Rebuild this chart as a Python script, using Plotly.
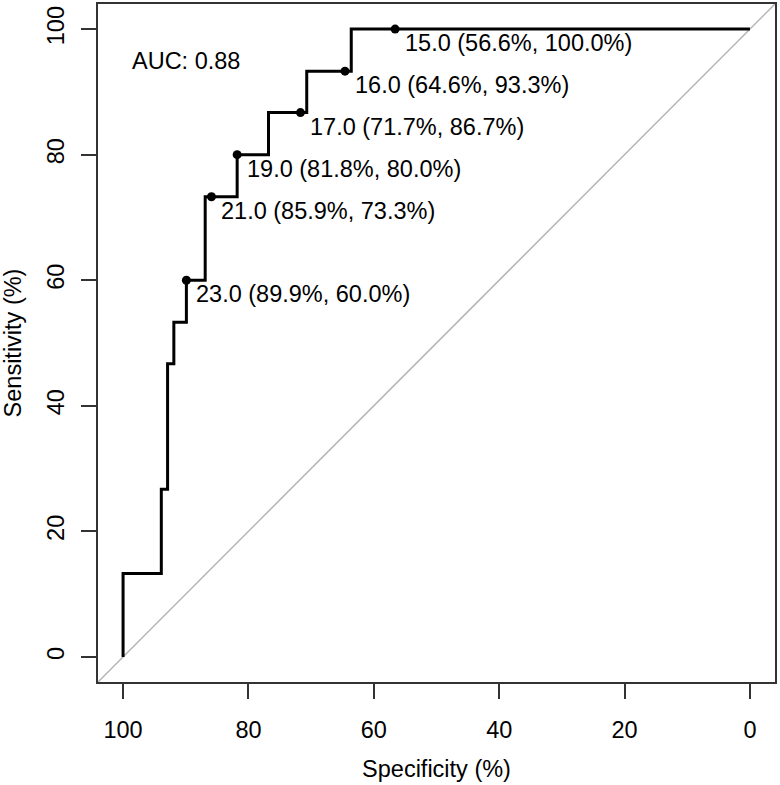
import plotly.graph_objects as go

# ROC curve vertices (specificity %, sensitivity %)
specificity = [100, 100, 93.9, 93.9, 92.9, 92.9, 91.9, 91.9, 89.9, 89.9, 86.9, 86.9,
               81.8, 81.8, 76.8, 76.8, 70.7, 70.7, 63.6, 63.6, 0]
sensitivity = [0, 13.3, 13.3, 26.7, 26.7, 46.7, 46.7, 53.3, 53.3, 60.0, 60.0, 73.3,
               73.3, 80.0, 80.0, 86.7, 86.7, 93.3, 93.3, 100, 100]

# printed thresholds
thresholds = ["15.0", "16.0", "17.0", "19.0", "21.0", "23.0"]
thr_spec = [56.6, 64.6, 71.7, 81.8, 85.9, 89.9]
thr_sens = [100.0, 93.3, 86.7, 80.0, 73.3, 60.0]

auc_text = "AUC: 0.88"
x_ticks = [100, 80, 60, 40, 20, 0]
y_ticks = [0, 20, 40, 60, 80, 100]

FONT = "Liberation Sans, Arial, Helvetica, sans-serif"
FS = 23.5

fig = go.Figure()

# diagonal reference line
fig.add_trace(go.Scatter(x=[104, -4], y=[-4, 104], mode="lines",
                         line=dict(color="#b4b4b4", width=1.5),
                         hoverinfo="skip", showlegend=False))

fig.add_trace(go.Scatter(x=specificity, y=sensitivity, mode="lines",
                         line=dict(color="black", width=3),
                         showlegend=False))

fig.add_trace(go.Scatter(x=thr_spec, y=thr_sens, mode="markers",
                         marker=dict(color="black", size=9),
                         showlegend=False))

for t, s, se in zip(thresholds, thr_spec, thr_sens):
    fig.add_annotation(x=s, y=se, text=f"{t} ({s:.1f}%, {se:.1f}%)",
                       showarrow=False, xanchor="left", yanchor="middle",
                       xshift=8, yshift=-14,
                       font=dict(family=FONT, size=FS, color="black"))

fig.add_annotation(x=98.9, y=95, text=auc_text, showarrow=False,
                   xanchor="left", yanchor="middle",
                   font=dict(family=FONT, size=FS, color="black"))

axis_common = dict(showgrid=False, zeroline=False, showline=True, mirror=True,
                   linecolor="#333333", linewidth=1.5, ticks="outside",
                   ticklen=15, tickwidth=1.5, tickcolor="#333333",
                   automargin=False,
                   tickfont=dict(family=FONT, size=FS, color="black"))

fig.update_xaxes(range=[104, -4], tickvals=x_ticks, ticklabelstandoff=11,
                 title=dict(text="Specificity (%)", standoff=19,
                            font=dict(family=FONT, size=FS, color="black")),
                 **axis_common)
fig.update_yaxes(range=[-4, 104], tickvals=y_ticks, tickangle=-90,
                 ticklabelstandoff=8,
                 title=dict(text="Sensitivity (%)", standoff=21,
                            font=dict(family=FONT, size=FS, color="black")),
                 **axis_common)

fig.update_layout(width=780, height=785,
                  margin=dict(l=98, r=5, t=4, b=103),
                  plot_bgcolor="white", paper_bgcolor="white",
                  font=dict(family=FONT, size=FS, color="black"))

fig.write_html("out.html", config={"displayModeBar": False},
               post_script="document.body.style.margin='0';document.body.style.overflow='hidden';")
